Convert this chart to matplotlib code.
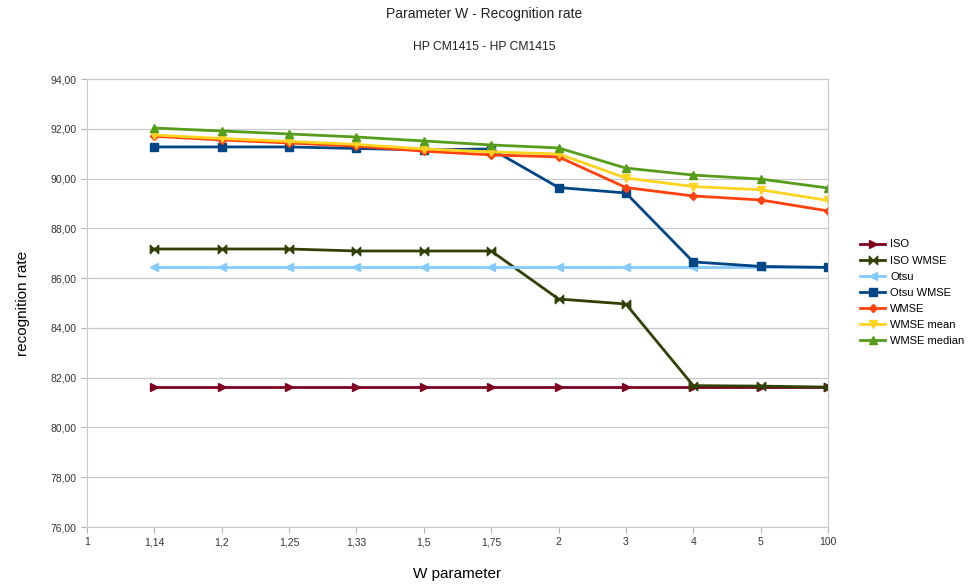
import matplotlib
matplotlib.use("Agg")
import matplotlib.pyplot as plt
import numpy as np
from matplotlib.path import Path
from matplotlib.ticker import FuncFormatter

plt.rcParams["font.family"] = ["Liberation Sans", "DejaVu Sans"]

categories = ["1", "1,14", "1,2", "1,25", "1,33", "1,5", "1,75", "2", "3", "4", "5", "100"]
# series start at the second category ("1,14")
iso = [81.63, 81.63, 81.63, 81.63, 81.63, 81.63, 81.63, 81.63, 81.63, 81.63, 81.63]
iso_wmse = [87.17, 87.17, 87.17, 87.09, 87.09, 87.09, 85.16, 84.96, 81.68, 81.66, 81.62]
otsu = [86.45, 86.45, 86.45, 86.45, 86.45, 86.45, 86.45, 86.45, 86.45, 86.45, 86.45]
otsu_wmse = [91.27, 91.27, 91.27, 91.21, 91.15, 91.19, 89.64, 89.42, 86.65, 86.47, 86.43]
wmse = [91.70, 91.55, 91.43, 91.30, 91.10, 90.95, 90.87, 89.64, 89.30, 89.14, 88.70]
wmse_mean = [91.75, 91.61, 91.49, 91.37, 91.19, 91.07, 90.99, 90.02, 89.68, 89.55, 89.12]
wmse_median = [92.03, 91.91, 91.79, 91.67, 91.51, 91.35, 91.23, 90.42, 90.14, 89.98, 89.62]

bowtie = Path([(-1, -1), (0, 0), (-1, 1), (-1, -1), (1, -1), (0, 0), (1, 1), (1, -1)],
              [Path.MOVETO, Path.LINETO, Path.LINETO, Path.CLOSEPOLY,
               Path.MOVETO, Path.LINETO, Path.LINETO, Path.CLOSEPOLY])

series = [
    ("ISO", iso, "#7E0021", ">"),
    ("ISO WMSE", iso_wmse, "#314004", bowtie),
    ("Otsu", otsu, "#83CAFF", "<"),
    ("Otsu WMSE", otsu_wmse, "#004586", "s"),
    ("WMSE", wmse, "#FF420E", "D"),
    ("WMSE mean", wmse_mean, "#FFD320", "v"),
    ("WMSE median", wmse_median, "#579D1C", "^"),
]

fig = plt.figure(figsize=(9.68, 5.85), dpi=100)
ax = fig.add_axes([87 / 968, 1 - 527 / 585, (828 - 87) / 968, (527 - 79) / 585])

x = np.arange(1, len(categories))
for name, vals, color, marker in series:
    ms = 4.5 if marker == "D" else 6
    ax.plot(x, vals, color=color, lw=2, marker=marker, ms=ms, label=name,
            markeredgecolor=color, markerfacecolor=color)

ax.set_xlim(0, len(categories) - 1)
ax.set_ylim(76, 94)
ax.set_xticks(np.arange(len(categories)))
ax.set_xticklabels(categories)
ax.set_yticks(np.arange(76, 94.1, 2))
ax.yaxis.set_major_formatter(FuncFormatter(lambda v, p: f"{v:.2f}".replace(".", ",")))
ax.grid(axis="y", color="#c8c8c8", lw=0.9)
ax.set_axisbelow(True)
for s in ax.spines.values():
    s.set_color("#c8c8c8")
ax.tick_params(colors="#b3b3b3", labelcolor="#333333", labelsize=7.5, length=4)

ax.set_ylabel("recognition rate", fontsize=11, labelpad=15)
ax.set_xlabel("W parameter", fontsize=11, labelpad=14)
fig.text(0.5, 1 - 14 / 585, "Parameter W - Recognition rate", ha="center", va="center", fontsize=10, color="#222222")
fig.text(0.5, 1 - 47 / 585, "HP CM1415 - HP CM1415", ha="center", va="center", fontsize=8.7, color="#222222")

fig.legend(loc="upper left", bbox_to_anchor=(856 / 968, 1 - 235 / 585), frameon=False,
           fontsize=8, handlelength=2.2, handletextpad=0.5, labelspacing=0.55, borderaxespad=0)

fig.savefig("out.png", dpi=100)
